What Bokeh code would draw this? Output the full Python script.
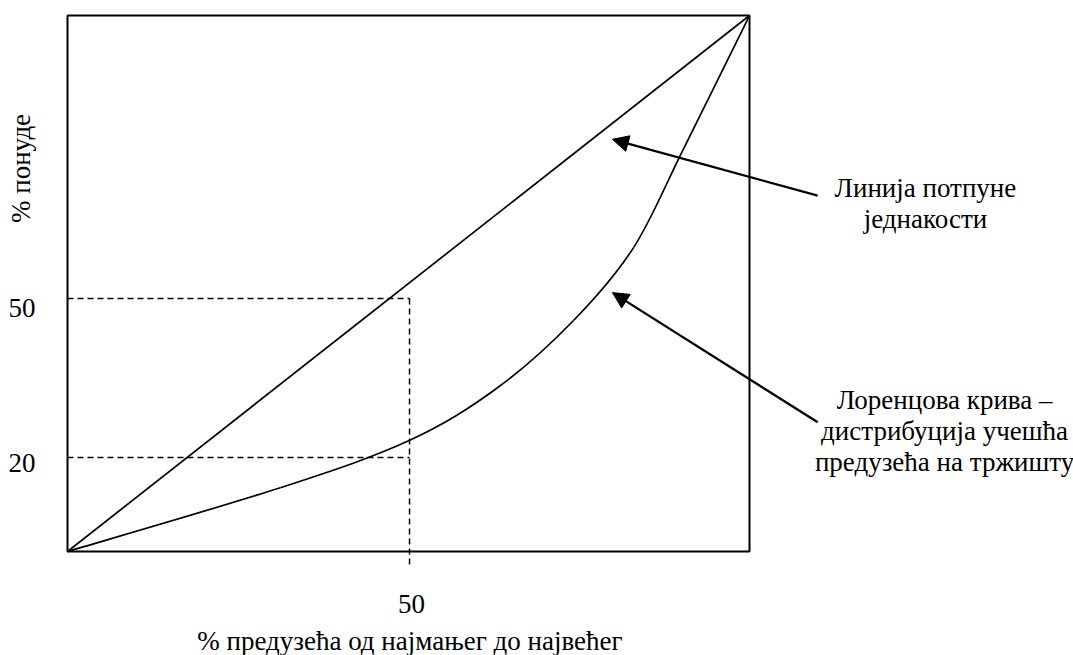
from bokeh.plotting import figure
from bokeh.models import Range1d, Arrow, NormalHead
from bokeh.core.properties import value
from bokeh.embed import file_html
from bokeh.resources import INLINE

# ---- data (percent units) ----
equality_x = [0, 100]
equality_y = [0, 100]

lorenz_x = [0, 31.2, 50.1, 63.0, 74.2, 83.0, 90.2, 100]
lorenz_y = [0, 11.9, 20.7, 30.5, 43.1, 56.7, 74.8, 100]

guide_x = 50.15           # vertical dashed guide
guide_y = [47.2, 17.54]   # horizontal dashed guides
guide_bottom = -2.99      # vertical guide runs slightly below the box

y_tick_pos = [45.4, 16.6]
y_tick_labels = ["50", "20"]
x_tick_pos = [50.44]
x_tick_labels = ["50"]

x_title = "% предузећа од најмањег до највећег"
y_title = "% понуде"

eq_lines = ["Линија потпуне", "једнакости"]
lor_lines = ["Лоренцова крива –", "дистрибуција учешћа", "предузећа на тржишту"]

# arrows (tail -> tip)
eq_arrow = dict(x_start=110.0, y_start=66.4, x_end=79.9, y_end=76.9)
lor_arrow = dict(x_start=110.0, y_start=24.1, x_end=79.9, y_end=48.3)

FONT = value("Liberation Serif")
FS = "27px"
LINE_STEP = 5.78  # data units between text lines

p = figure(width=1073, height=655, output_backend="svg", toolbar_location=None,
           x_range=Range1d(-9.824, 147.507), y_range=Range1d(-19.403, 102.799),
           min_border=0)
p.axis.visible = False
p.grid.visible = False
p.outline_line_color = None
p.background_fill_color = "white"
p.border_fill_color = "white"

# box
p.quad(left=[0], right=[100], bottom=[0], top=[100], fill_color=None,
       line_color="black", line_width=2)

# dashed guides
for gy in guide_y:
    p.line([0, guide_x], [gy, gy], line_color="black", line_width=1.5, line_dash="6 4")
p.line([guide_x, guide_x], [guide_y[0], guide_bottom], line_color="black",
       line_width=1.5, line_dash="6 4")

# equality line
p.line(equality_x, equality_y, line_color="black", line_width=1.7)

# Lorenz curve drawn as a smooth (Catmull-Rom) path through the read points
n = len(lorenz_x)
def pt(i):
    i = max(0, min(n - 1, i))
    return lorenz_x[i], lorenz_y[i]
x0, y0, x1, y1, cx0, cy0, cx1, cy1 = ([] for _ in range(8))
for i in range(n - 1):
    pa, pb, pc, pd = pt(i - 1), pt(i), pt(i + 1), pt(i + 2)
    x0.append(pb[0]); y0.append(pb[1]); x1.append(pc[0]); y1.append(pc[1])
    cx0.append(pb[0] + (pc[0] - pa[0]) / 6); cy0.append(pb[1] + (pc[1] - pa[1]) / 6)
    cx1.append(pc[0] - (pd[0] - pb[0]) / 6); cy1.append(pc[1] - (pd[1] - pb[1]) / 6)
p.bezier(x0=x0, y0=y0, x1=x1, y1=y1, cx0=cx0, cy0=cy0, cx1=cx1, cy1=cy1,
         line_color="black", line_width=1.7)

# arrows
for a in (eq_arrow, lor_arrow):
    p.add_layout(Arrow(end=NormalHead(size=16, fill_color="black", line_color="black"),
                       line_color="black", line_width=2.3, **a))

common = dict(text_font=FONT, text_font_size=FS, text_color="black")

# tick labels
p.text(x=[-4.7] * len(y_tick_pos), y=y_tick_pos, text=y_tick_labels,
       text_align="right", text_baseline="alphabetic", **common)
p.text(x=x_tick_pos, y=[-9.85] * len(x_tick_pos), text=x_tick_labels,
       text_align="center", text_baseline="alphabetic", **common)

# axis titles
p.text(x=[50.2], y=[-16.61], text=[x_title],
       text_align="center", text_baseline="alphabetic", **common)
p.text(x=[-6.89], y=[71.46], text=[y_title], angle=1.5707963,
       text_align="center", text_baseline="middle", **common)

# annotations (one glyph row per line)
eq_y0 = 67.85
p.text(x=[125.8] * len(eq_lines), y=[eq_y0 - i * LINE_STEP for i in range(len(eq_lines))],
       text=eq_lines, text_align="center", text_baseline="alphabetic", **common)
lor_y0 = 28.2
p.text(x=[128.6] * len(lor_lines), y=[lor_y0 - i * LINE_STEP for i in range(len(lor_lines))],
       text=lor_lines, text_align="center", text_baseline="alphabetic", **common)

open("out.html", "w").write(file_html(p, INLINE))
